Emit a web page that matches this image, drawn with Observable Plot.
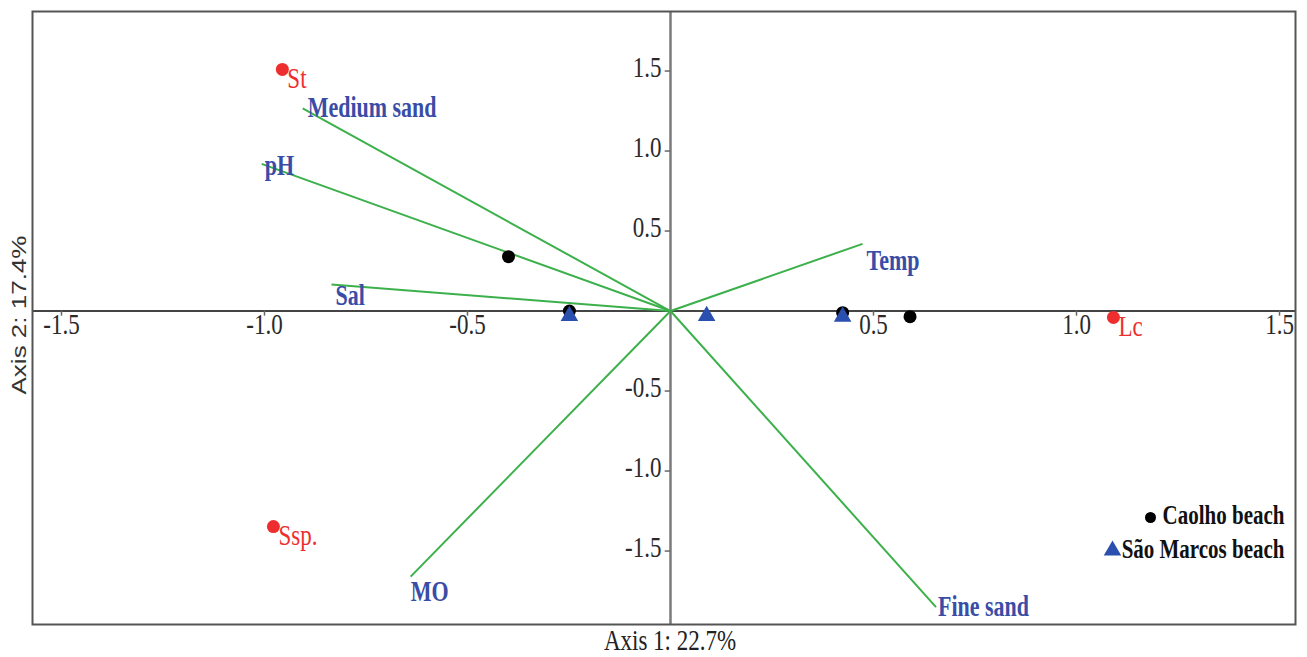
<!DOCTYPE html>
<html>
<head>
<meta charset="utf-8">
<script src="https://cdn.jsdelivr.net/npm/d3@7"></script>
<script src="https://cdn.jsdelivr.net/npm/@observablehq/plot@0.6"></script>
<style>
  html, body { margin: 0; padding: 0; background: #fff; }
  #chart { width: 1307px; height: 657px; }
</style>
</head>
<body>
<div id="chart"></div>
<script>
// ---- Data ----
const xTicks = [-1.5, -1.0, -0.5, 0.5, 1.0, 1.5];
const yTicks = [1.5, 1.0, 0.5, -0.5, -1.0, -1.5];

const vectorNames = ["Medium sand", "pH", "Sal", "Temp", "MO", "Fine sand"];
const vectorX = [-0.906, -1.007, -0.835, 0.473, -0.640, 0.654];
const vectorY = [1.266, 0.920, 0.166, 0.420, -1.660, -1.850];

const speciesNames = ["St", "Ssp.", "Lc"];
const speciesX = [-0.956, -0.978, 1.091];
const speciesY = [1.510, -1.347, -0.040];

const caolhoX = [-0.399, -0.249, 0.424, 0.590];
const caolhoY = [0.340, 0.000, -0.010, -0.035];
const saoMarcosX = [-0.249, 0.089, 0.424];
const saoMarcosY = [-0.030, -0.030, -0.035];

const legendNames = ["Caolho beach", "São Marcos beach"];
const axisLabelX = "Axis 1: 22.7%";
const axisLabelY = "Axis 2: 17.4%";

// label nudges (pixels) for the vector labels
const vectorNudge = [[5, -1], [3, 2], [4, 11], [4, 17], [0, 15], [2, 0]];

// ---- Tables ----
const vectors = vectorNames.map((n, i) => ({name: n, x: vectorX[i], y: vectorY[i], nudge: vectorNudge[i]}));
const species = speciesNames.map((n, i) => ({name: n, x: speciesX[i], y: speciesY[i]}));
const caolho = caolhoX.map((x, i) => ({x, y: caolhoY[i]}));
const saoMarcos = saoMarcosX.map((x, i) => ({x, y: saoMarcosY[i]}));

const serif = "Liberation Serif, DejaVu Serif, serif";
const sans = "Liberation Sans, Arial, sans-serif";
const green = "#3cb04a";
const labelBlue = "#3a4da6";
const red = "#ee2e2e";
const triBlue = "#2a4fae";
const tickColor = "#2a2a2a";

const chart = Plot.plot({
  width: 1307,
  height: 657,
  marginLeft: 32,
  marginRight: 12,
  marginTop: 11,
  marginBottom: 33,
  x: {domain: [-1.5714, 1.5394], axis: null},
  y: {domain: [-1.959, 1.872], axis: null},
  style: {fontFamily: serif, background: "#fff"},
  marks: [
    // axis lines through origin
    Plot.ruleX([0], {stroke: "#7a7a7a", strokeWidth: 2.5}),
    Plot.ruleY([0], {stroke: "#444", strokeWidth: 2}),
    // tick marks
    Plot.ruleX(xTicks, {x: d => d, y1: 0, y2: -0.032, stroke: "#666", strokeWidth: 1.5}),
    Plot.ruleY(yTicks, {y: d => d, x1: 0, x2: -0.013, stroke: "#666", strokeWidth: 1.5}),
    // tick labels
    Plot.text(xTicks, {x: d => d, y: 0, text: d => d.toFixed(1), dy: 13, fontSize: 23, fontFamily: serif, fill: tickColor}),
    Plot.text(yTicks, {x: 0, y: d => d, text: d => d.toFixed(1), dx: -9, dy: -4, textAnchor: "end", fontSize: 23, fontFamily: serif, fill: tickColor}),
    // environmental vectors
    Plot.link(vectors, {x1: 0, y1: 0, x2: "x", y2: "y", stroke: green, strokeWidth: 2}),
    ...vectors.map(v => Plot.text([v], {x: "x", y: "y", text: "name", textAnchor: "start", dx: v.nudge[0], dy: v.nudge[1], fontSize: 22, fontWeight: "bold", fontFamily: serif, fill: labelBlue})),
    // sites
    Plot.dot(caolho, {x: "x", y: "y", r: 6.5, fill: "#000", symbol: "circle"}),
    Plot.dot(saoMarcos, {x: "x", y: "y", r: 6.5, fill: triBlue, symbol: "triangle"}),
    // species
    Plot.dot(species, {x: "x", y: "y", r: 6.5, fill: red}),
    Plot.text(species, {x: "x", y: "y", text: "name", textAnchor: "start", dx: 5, dy: 9, fontSize: 23, fontFamily: serif, fill: red}),
    // frame
    Plot.frame({stroke: "#555", strokeWidth: 2}),
    // axis titles
    Plot.text([axisLabelX], {frameAnchor: "bottom", text: d => d, dx: 6, dy: 25, fontSize: 23, fontFamily: serif, fill: "#222"}),
    Plot.text([axisLabelY], {frameAnchor: "left", text: d => d, rotate: -90, textAnchor: "middle", dx: -13, dy: -3, fontSize: 20, fontFamily: sans, fill: "#333"}),
    // legend
    Plot.text([legendNames[0]], {frameAnchor: "bottom-right", text: d => d, textAnchor: "end", dx: -11, dy: -101, fontSize: 21, fontWeight: "bold", fontFamily: serif, fill: "#111"}),
    Plot.text([legendNames[1]], {frameAnchor: "bottom-right", text: d => d, textAnchor: "end", dx: -11, dy: -67, fontSize: 21, fontWeight: "bold", fontFamily: serif, fill: "#111"}),
    Plot.dot([legendNames[0]], {frameAnchor: "bottom-right", dx: -145, dy: -107, r: 5.5, fill: "#000", symbol: "circle"}),
    Plot.dot([legendNames[1]], {frameAnchor: "bottom-right", dx: -183, dy: -74, r: 6.5, fill: triBlue, symbol: "triangle"})
  ]
});

// stretch glyphs vertically, like the tall narrow type of the reference
d3.select(chart).selectAll("text").each(function () {
  const t = this.getAttribute("transform");
  if (!t) return;
  const rotated = /rotate/.test(t);
  this.setAttribute("transform", t + (rotated ? " scale(1.3,1)" : " scale(1,1.3)"));
});

document.getElementById("chart").appendChild(chart);
</script>
</body>
</html>
